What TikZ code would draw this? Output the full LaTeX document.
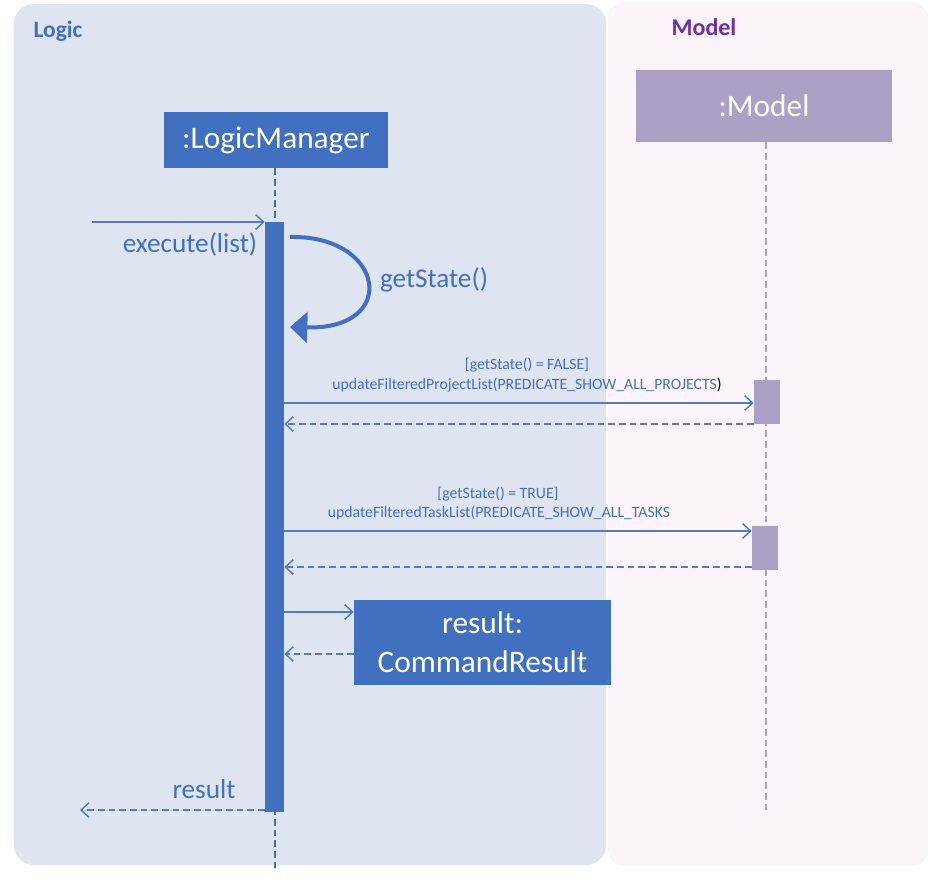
\documentclass[tikz,border=0pt]{standalone}
\usepackage{fontspec}
\setmainfont{Carlito}
\usetikzlibrary{arrows.meta,positioning}

\definecolor{logicbg}{RGB}{222,229,240}
\definecolor{modelbg}{RGB}{251,244,250}
\definecolor{mgrblue}{RGB}{66,112,192}
\definecolor{msgblue}{RGB}{84,122,196}
\definecolor{modelbox}{RGB}{173,160,197}
\definecolor{modeltxt}{RGB}{112,48,160}

\tikzset{
  objbox/.style = {fill = mgrblue, text = white, inner sep = 0pt, align = center,
                   font = \fontsize{23.5}{29}\selectfont},
  actbar/.style = {fill = mgrblue, inner sep = 0pt, minimum width = 14.25pt},
  modelact/.style = {fill = modelbox, inner sep = 0pt, minimum width = 19.5pt, minimum height = 33pt},
  msg/.style = {draw = msgblue, line width = 1.1pt, ->},
  reply/.style = {msg, dashed, dash pattern = on 5pt off 3pt},
  msglabel/.style = {text = mgrblue, font = \fontsize{20.4}{24}\selectfont},
  smalllabel/.style = {text = mgrblue, font = \fontsize{11.8}{14}\selectfont}
}

\begin{document}
\begin{tikzpicture}[x = 0.75pt, y = -0.75pt, > = {Straight Barb[length = 6pt, width = 11pt]}]
            \useasboundingbox (0, 0) rectangle (940, 880);

            % frames
            \fill[logicbg, rounded corners = 15pt] (14, 4) rectangle (606, 865);
            \fill[modelbg, rounded corners = 12pt] (608, 2) rectangle (928, 866);
            \node[text = mgrblue, font = \bfseries\fontsize{17.6}{20}\selectfont] (logictitle) at (58, 31) {Logic};
            \node[text = modeltxt, font = \bfseries\fontsize{18}{20}\selectfont] (modeltitle) at (704, 27) {Model};

            % objects and lifelines
            \node[objbox, minimum width = 168pt, minimum height = 42pt] (mgr) at (276, 140) {:LogicManager};
            \node[objbox, fill = modelbox, minimum width = 192pt, minimum height = 54pt] (model) at (764, 106) {:Model};
            \coordinate (mgrend) at (275, 870);
            \coordinate (modelend) at (766, 810);
            \draw[mgrblue, line width = 1.1pt, dash pattern = on 5pt off 3pt] (mgr.south -| mgrend) -- (mgrend);
            \draw[modelbox, line width = 0.9pt, dash pattern = on 5pt off 3pt] (model.south -| modelend) -- (modelend);

            % activation bars
            \node[actbar, minimum height = 442.5pt] (act) at (274.5, 517) {};
            \node[modelact] (mact1) at (767, 402) {};
            \node[modelact] (mact2) at (765, 548) {};

            % execute
            \coordinate (caller) at (92, 222);
            \draw[msg] (caller) -- (caller -| act.west);
            \node[msglabel] (exec) at (190, 244) {execute(list)};

            % self call
            \coordinate (selfa) at (290, 237);
            \coordinate (selfb) at (290, 327);
            \draw[mgrblue, line width = 3pt, -{Triangle[length = 13pt, width = 23pt]}]
                (selfa) .. controls (385, 235) and (400, 330) .. (selfb);
            \node[msglabel] (getstate) at (434, 280) {getState()};

            % project list
            \coordinate (m1) at (0, 403);
            \coordinate (r1) at (0, 424);
            \draw[msg] (m1 -| act.east) -- (m1 -| mact1.west);
            \draw[reply] (r1 -| mact1.west) -- (r1 -| act.east);
            \node[smalllabel] (g1) at (527, 365) {[getState() = FALSE]};
            \node[smalllabel] (u1) at (527, 385) {updateFilteredProjectList(PREDICATE\_SHOW\_ALL\_PROJECTS{\color{black})}};

            % task list
            \coordinate (m2) at (0, 531);
            \coordinate (r2) at (0, 567);
            \draw[msg] (m2 -| act.east) -- (m2 -| mact2.west);
            \draw[reply] (r2 -| mact2.west) -- (r2 -| act.east);
            \node[smalllabel] (g2) at (498, 494) {[getState() = TRUE]};
            \node[smalllabel] (u2) at (499, 513) {updateFilteredTaskList(PREDICATE\_SHOW\_ALL\_TASKS};

            % command result
            \node[objbox, minimum width = 192.75pt, minimum height = 63.75pt] (res) at (482.5, 642.5) {result:\\CommandResult};
            \coordinate (m3) at (0, 612);
            \coordinate (r3) at (0, 654);
            \draw[msg] (m3 -| act.east) -- (m3 -| res.west);
            \draw[reply] (r3 -| res.west) -- (r3 -| act.east);

            % return
            \coordinate (back) at (80, 810);
            \draw[reply] (back -| act.west) -- (back);
            \node[msglabel] (ret) at (204, 789) {result};

        \end{tikzpicture}
\end{document}
